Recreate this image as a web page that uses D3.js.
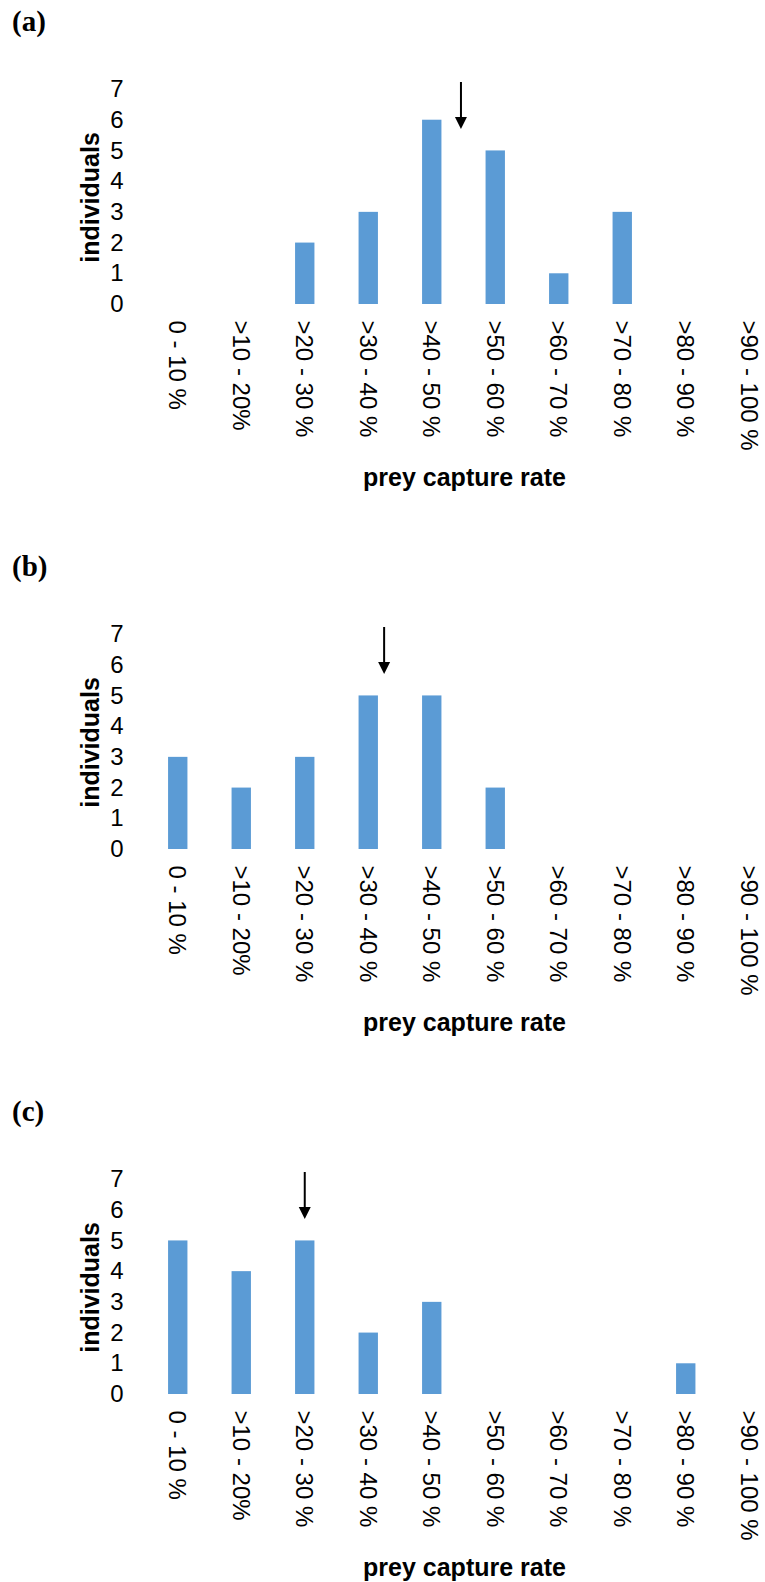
<!DOCTYPE html>
<html>
<head>
<meta charset="utf-8">
<script src="https://cdn.jsdelivr.net/npm/d3@7"></script>
<style>
  body { margin: 0; background: #fff; }
  .fig text { font-family: "Liberation Sans", Arial, sans-serif; fill: #000; }
</style>
</head>
<body>
<div class="fig"></div>
<script>
// capture rate classes
var categories = ["0 - 10 %", ">10 - 20%", ">20 - 30 %", ">30 - 40 %", ">40 - 50 %",
    ">50 - 60 %", ">60 - 70 %", ">70 - 80 %", ">80 - 90 %", ">90 - 100 %"];

// individuals per class, one array per panel
var valuesA = [0, 0, 2, 3, 6, 5, 1, 3, 0, 0];
var valuesB = [3, 2, 3, 5, 5, 2, 0, 0, 0, 0];
var valuesC = [5, 4, 5, 2, 3, 0, 0, 0, 1, 0];

// arrow position (capture rate, %)
var arrowA = 49.6;
var arrowB = 37.5;
var arrowC = 25.0;

var panelLabels = ["(a)", "(b)", "(c)"];
var yTicks = [0, 1, 2, 3, 4, 5, 6, 7];

var w = 765;
var h = 1582;

var svg = d3.select(".fig")
    .append("svg")
    .attr("width", w)
    .attr("height", h);

var x = d3.scaleBand()
    .domain(categories)
    .range([146, 781])
    .paddingInner(0.695)
    .paddingOuter(0.3475);

// percent -> pixel, same span as the band scale
var xPct = d3.scaleLinear().domain([0, 100]).range([146, 781]);

function drawPanel(values, arrowAt, base, label) {
    var y = d3.scaleLinear().domain([0, 7]).range([base, base - 215]);
    var g = svg.append("g");

    g.append("text")
        .text(label)
        .attr("x", 12)
        .attr("y", base - 273)
        .attr("font-size", 29)
        .attr("font-weight", "bold")
        .style("font-family", "'Liberation Serif', 'Times New Roman', serif");

    g.selectAll("rect")
        .data(values)
        .enter().append("rect")
        .attr("x", function (d, i) { return x(categories[i]); })
        .attr("width", x.bandwidth())
        .attr("y", function (d) { return y(d); })
        .attr("height", function (d) { return base - y(d); })
        .attr("fill", "#5b9bd5");

    var yAxis = g.append("g")
        .attr("transform", "translate(146,0)")
        .call(d3.axisLeft(y).tickValues(yTicks).tickFormat(d3.format("d")).tickSize(0).tickPadding(22.5));
    yAxis.select(".domain").remove();
    yAxis.selectAll("text").attr("font-size", 24).style("font-family", null);

    var xAxis = g.append("g")
        .attr("transform", "translate(0," + base + ")")
        .call(d3.axisBottom(x).tickSize(0));
    xAxis.select(".domain").remove();
    xAxis.selectAll("text")
        .attr("transform", "rotate(90)")
        .attr("x", 16.5)
        .attr("y", 0)
        .attr("dy", "0.35em")
        .attr("font-size", 24)
        .style("font-family", null)
        .style("text-anchor", "start");

    g.append("text")
        .text("individuals")
        .attr("transform", "translate(99," + (base - 106.5) + ") rotate(-90)")
        .attr("text-anchor", "middle")
        .attr("font-size", 25)
        .attr("font-weight", "bold");

    g.append("text")
        .text("prey capture rate")
        .attr("x", 464.5)
        .attr("y", base + 182)
        .attr("text-anchor", "middle")
        .attr("font-size", 25)
        .attr("font-weight", "bold");

    // arrow marking the panel's reference value
    var ax = xPct(arrowAt);
    g.append("line")
        .attr("x1", ax)
        .attr("x2", ax)
        .attr("y1", base - 222)
        .attr("y2", base - 185)
        .attr("stroke", "#000")
        .attr("stroke-width", 2);
    g.append("path")
        .attr("d", "M" + (ax - 6) + "," + (base - 187) + "L" + (ax + 6) + "," + (base - 187) + "L" + ax + "," + (base - 175) + "Z")
        .attr("fill", "#000");
}

drawPanel(valuesA, arrowA, 304, panelLabels[0]);
drawPanel(valuesB, arrowB, 849, panelLabels[1]);
drawPanel(valuesC, arrowC, 1394, panelLabels[2]);
</script>
</body>
</html>
